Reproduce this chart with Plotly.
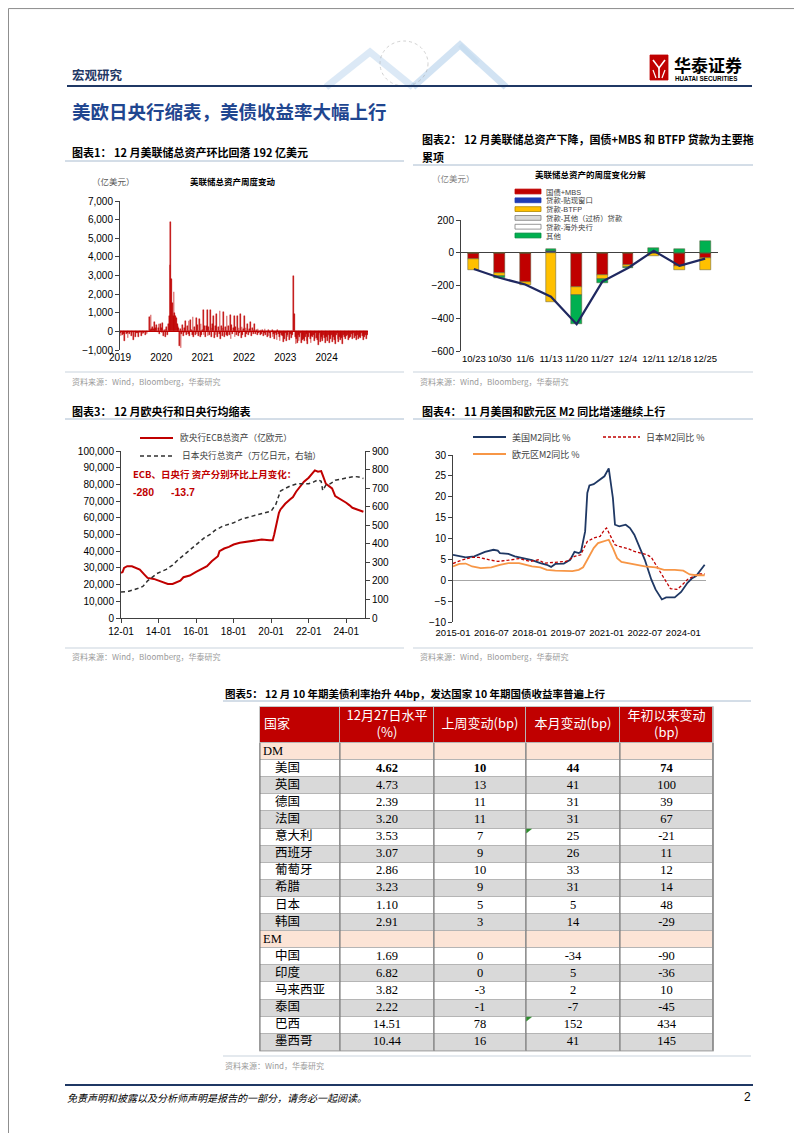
import plotly.graph_objects as go
import pandas as pd

# ======================= DATA =======================
# 图表1：美联储总资产周度变动（亿美元），每周一个值
fed_first_week = "2019-01-02"
fed_chg_2019 = [-80, -250, -30, -180, -120,
                -60, -500, -40, -150,
                -90, -380, -20, -120,
                -50, -250, -100, -60, -450,
                -40, -280, -30, -110,
                -70, -320, -50, -90,
                -20, -260, -60, -130, -90,
                -40, -210, -30, -150,
                -50, 20, 780, 60,
                880, 150, 250, 120, 520,
                100, 200, 350, -50,
                200, 380, -150, 420]
fed_chg_2020 = [200, -100, 450, -250, 100,
                -300, 150, 250, -200,
                400, 800, 3560, 5860,
                2800, 1500, 800, 2100, 1000,
                800, 700, 400, 300,
                200, -800, 150, -900,
                -150, 350, -250, 200, -100,
                550, -200, 300, -150,
                550, -250, 600, 100, -200,
                750, -300, 250, -200,
                700, -150, 350, -250,
                650, -300, 400, -200, 100]
fed_chg_2021 = [1150, -200, 300, -300,
                300, 1150, -250, 250,
                -200, 1150, -300, 200, 400,
                850, -350, 300, -200,
                950, -300, 250, -150,
                1100, -400, 300, -250, 200,
                1050, -300, 250, -200,
                850, -250, 300, -200,
                900, -400, 350, -150, 200,
                850, -300, 250, -200,
                850, -250, 200, -100,
                950, -350, 250, -200, 150]
fed_chg_2022 = [850, -300, 200, -150,
                400, -200, 150, -100,
                500, -250, 200, -150, 100,
                400, -150, 100, -200,
                150, -100, -50, -200,
                100, -150, 50, -250, -100,
                150, -200, -50, -300,
                100, -250, -100, -350, -50,
                50, -300, -150, -400,
                -100, -200, -450, 50,
                -150, -300, -500, -100, -200,
                -250, -550, -150, -400]
fed_chg_2023 = [-100, -500, -200, -300,
                -50, -450, -150, -350,
                -100, -200, 3000, 950, -300,
                -700, -400, -600, -200,
                -500, -300, -100, -600, -450,
                -200, -400, -500, -300,
                -150, -500, -700, -300,
                -100, -400, -650, -250, -300,
                -200, -500, -400, -100,
                -350, -450, -750, -200,
                -100, -550, -300, -400, -500,
                -200, -350, -600, -250]
fed_chg_2024 = [-300, -500, -200, -600, -250,
                -400, -200, -550, -300,
                -150, -450, -700, -200,
                -100, -400, -550, -300,
                -450, -250, -350, -700, -200,
                -300, -150, -400, -250,
                -200, -450, -100, -350, -300,
                -150, -400, -200, -100,
                -350, -250, -450, -100,
                -200, -400, -300, -150, -350,
                -100, -250, -450, -150,
                -300, -200, -400, -192]
fed_year_ticks = ["2019-01-01", "2020-01-01", "2021-01-01", "2022-01-01", "2023-01-01", "2024-01-01"]
fed_year_labels = ["2019", "2020", "2021", "2022", "2023", "2024"]

# 图表2：美联储总资产的周度变化分解（亿美元）
decomp_weeks = ["10/23", "10/30", "11/6", "11/13", "11/20", "11/27", "12/4", "12/11", "12/18", "12/25"]
tsy_mbs = [-36, -125, -180, -3, -210, -133, -73, -3, -79, -32]
discount_window = [0, 0, 0, 8, 0, 0, 0, 0, 0, 0]
btfp_loans = [-71, -14, -14, -298, -48, -30, -16, -18, -27, -75]
bridge_loans = [0, 0, 0, 0, 0, 0, 0, 0, 0, 0]
foreign_cb_loans = [0, 0, 0, 0, 0, 0, 0, 0, 0, 0]
other_items = [0, -14, 0, 17, -178, -20, -3, 30, 22, 73]
fed_total_chg = [-99, -153, -194, -268, -436, -176, -93, 12, -80, -36]
decomp_names = ["国债+MBS", "贷款-贴现窗口", "贷款-BTFP", "贷款-其他（过桥）贷款", "贷款-海外央行", "其他"]

# 图表3：欧央行总资产（亿欧元）与日本央行总资产（万亿日元）
ecb_dates = ["2012-01", "2012-02", "2012-03", "2012-05", "2012-08", "2012-11", "2013-01", "2013-04",
             "2013-06", "2013-10", "2014-01", "2014-04", "2014-07", "2014-10", "2015-01", "2015-03",
             "2015-05", "2015-09", "2016-01", "2016-04", "2016-08", "2016-11", "2017-03", "2017-04",
             "2017-07", "2017-10", "2018-01", "2018-05", "2018-10", "2019-01", "2019-07", "2019-12",
             "2020-02", "2020-03", "2020-04", "2020-06", "2020-07", "2020-10", "2021-01", "2021-03",
             "2021-05", "2021-08", "2021-10", "2022-01", "2022-03", "2022-05", "2022-07", "2022-09",
             "2022-10", "2022-12", "2023-02", "2023-04", "2023-06", "2023-08", "2023-10", "2024-01",
             "2024-03", "2024-05", "2024-08", "2024-10", "2024-12"]
ecb_assets = [27000, 27500, 30000, 31000, 31000, 30000, 29000, 26000,
              24000, 23400, 22400, 21600, 20400, 20400, 21400, 22400,
              24400, 25400, 27600, 29000, 31000, 34000, 37000, 40000,
              41600, 42600, 44000, 45000, 45600, 46000, 47000, 46600,
              46600, 50000, 55000, 63000, 65000, 68400, 71000, 72400,
              75600, 79000, 81600, 84000, 86400, 88400, 87600, 88000,
              85600, 80400, 79000, 77600, 73000, 72000, 70600, 69000,
              67600, 66000, 65000, 64400, 63600]
boj_dates = ["2012-01", "2012-06", "2012-12", "2013-03", "2013-06", "2013-09", "2013-12", "2014-06",
             "2014-10", "2015-01", "2015-06", "2015-12", "2016-06", "2016-10", "2017-01", "2017-06",
             "2018-01", "2018-06", "2019-01", "2019-06", "2020-01", "2020-04", "2020-07", "2020-10",
             "2021-01", "2021-06", "2022-01", "2022-04", "2022-07", "2022-09", "2022-10", "2022-12",
             "2023-03", "2023-06", "2023-09", "2024-01", "2024-06", "2024-09", "2024-12"]
boj_assets = [140, 144, 160, 170, 200, 222, 240, 262,
              285, 310, 345, 390, 430, 450, 472, 495,
              513, 533, 549, 558, 576, 612, 684, 698,
              711, 724, 724, 732, 745, 737, 688, 716,
              724, 742, 747, 756, 763, 760, 752]

# 图表4：M2 同比（%）
us_m2_dates = ["2015-01", "2015-03", "2015-07", "2015-11", "2016-01", "2016-04", "2016-08", "2016-10",
               "2016-11", "2017-03", "2017-06", "2017-10", "2018-02", "2018-06", "2018-09", "2018-11",
               "2019-01", "2019-05", "2019-08", "2019-10", "2019-12", "2020-01", "2020-03", "2020-04",
               "2020-05", "2020-07", "2020-09", "2020-12", "2021-02", "2021-04", "2021-05", "2021-07",
               "2021-10", "2021-12", "2022-02", "2022-04", "2022-07", "2022-10", "2022-12", "2023-03",
               "2023-05", "2023-09", "2023-12", "2024-03", "2024-05", "2024-07", "2024-11"]
us_m2_yoy = [6.1, 5.9, 5.5, 5.7, 6.1, 6.8, 7.3, 7.1,
             6.5, 6.3, 5.7, 5.3, 4.8, 4.1, 3.7, 3.2,
             3.9, 4.0, 4.9, 6.8, 6.5, 6.8, 11.7, 20.9,
             22.7, 23.0, 23.7, 24.9, 26.8, 19.7, 13.3, 12.9,
             13.3, 12.5, 10.9, 8.5, 4.9, 0.2, -2.2, -4.6,
             -4.1, -4.1, -2.8, -0.6, 0.4, 1.0, 3.7]
jp_m2_dates = ["2015-01", "2015-05", "2015-10", "2016-01", "2016-06", "2016-10", "2017-03", "2017-08",
               "2018-01", "2018-05", "2018-08", "2019-01", "2019-06", "2019-10", "2020-01", "2020-02",
               "2020-04", "2020-07", "2020-10", "2020-12", "2021-01", "2021-03", "2021-05", "2021-07",
               "2021-11", "2022-02", "2022-05", "2022-08", "2022-10", "2023-01", "2023-04", "2023-07",
               "2023-10", "2023-12", "2024-03", "2024-06", "2024-08", "2024-11"]
jp_m2_yoy = [4.0, 4.8, 5.5, 5.5, 4.9, 4.5, 4.8, 5.2,
             4.5, 4.9, 4.1, 4.3, 4.5, 5.7, 6.1, 7.3,
             9.3, 10.1, 10.5, 12.1, 12.5, 10.5, 8.5, 8.1,
             7.6, 6.9, 6.5, 6.1, 5.5, 2.9, 0.6, -2.0,
             -2.2, -1.4, 0.2, 1.0, 1.5, 1.5]
ez_m2_dates = ["2015-01", "2015-04", "2015-07", "2015-10", "2016-02", "2016-07", "2016-11", "2017-03",
               "2017-08", "2017-11", "2018-02", "2018-06", "2018-09", "2019-01", "2019-06", "2019-09",
               "2019-12", "2020-02", "2020-04", "2020-07", "2020-09", "2020-12", "2021-02", "2021-04",
               "2021-06", "2021-08", "2021-11", "2022-02", "2022-07", "2022-12", "2023-04", "2023-09",
               "2024-01", "2024-04", "2024-07", "2024-11"]
ez_m2_yoy = [3.3, 3.9, 4.0, 3.3, 2.9, 3.1, 3.7, 4.1,
             4.1, 3.7, 3.3, 3.1, 2.5, 2.3, 2.3, 2.2,
             2.5, 3.1, 4.9, 7.7, 8.9, 9.3, 9.7, 7.7,
             5.3, 4.4, 4.1, 3.7, 3.3, 3.1, 2.5, 2.5,
             2.3, 1.4, 1.2, 1.2]

# 图表5：10 年期国债收益率
table_header = ["国家", "12月27日水平<br>(%)", "上周变动(bp)", "本月变动(bp)", "年初以来变动<br>(bp)"]
dm_countries = ["美国", "英国", "德国", "法国", "意大利", "西班牙", "葡萄牙", "希腊", "日本", "韩国"]
dm_level = ["4.62", "4.73", "2.39", "3.20", "3.53", "3.07", "2.86", "3.23", "1.10", "2.91"]
dm_week = [10, 13, 11, 11, 7, 9, 10, 9, 5, 3]
dm_month = [44, 41, 31, 31, 25, 26, 33, 31, 5, 14]
dm_ytd = [74, 100, 39, 67, -21, 11, 12, 14, 48, -29]
em_countries = ["中国", "印度", "马来西亚", "泰国", "巴西", "墨西哥"]
em_level = ["1.69", "6.82", "3.82", "2.22", "14.51", "10.44"]
em_week = [0, 0, -3, -1, 78, 16]
em_month = [-34, 5, 2, -7, 152, 41]
em_ytd = [-90, -36, 10, -45, 434, 145]

# ======================= HELPERS =======================
W, H = 802, 1133
CJK = "Noto Sans CJK SC"
SANS = "Liberation Sans, Arial, Noto Sans CJK SC"
SERIF = "Liberation Serif, Times New Roman, Noto Sans CJK SC"
RED = "#C00000"
NAVY = "#1F3864"


def fx(p):
    return p / W


def fy(p):
    return 1 - p / H


annotations = []
shapes = []


def txt(x, y, s, size=10, color="#000000", xanchor="left", yanchor="middle", family=CJK, box_h=None):
    a = dict(x=fx(x), y=fy(y), xref="paper", yref="paper", text=s, showarrow=False,
             xanchor=xanchor, yanchor=yanchor, align="left",
             font=dict(size=size, color=color, family=family))
    if box_h:
        a["height"] = box_h
        a["borderpad"] = 0
        a["valign"] = "middle"
    annotations.append(a)


def hline(x0, y0, x1, y1, color, width=1, dash="solid"):
    shapes.append(dict(type="line", xref="paper", yref="paper", x0=fx(x0), y0=fy(y0), x1=fx(x1), y1=fy(y1),
                       line=dict(color=color, width=width, dash=dash)))


def rect(x0, y0, x1, y1, fill, line_color=None, lw=0.8, layer="above"):
    shapes.append(dict(type="rect", xref="paper", yref="paper", x0=fx(x0), y0=fy(y1), x1=fx(x1), y1=fy(y0),
                       fillcolor=fill, line=dict(color=line_color or fill, width=lw), layer=layer))


def path(points, color, width, opacity=1.0, fill=None):
    d = "M " + " L ".join(f"{fx(a):.5f},{fy(b):.5f}" for a, b in points)
    if fill:
        d += " Z"
    shapes.append(dict(type="path", xref="paper", yref="paper", path=d, opacity=opacity,
                       line=dict(color=color, width=width), fillcolor=fill or "rgba(0,0,0,0)"))


# ======================= TRACES =======================
fed_chg = fed_chg_2019 + fed_chg_2020 + fed_chg_2021 + fed_chg_2022 + fed_chg_2023 + fed_chg_2024
fed_weeks = pd.date_range(fed_first_week, periods=len(fed_chg), freq="7D")
week_ms = 7 * 24 * 3600 * 1000

fig = go.Figure()
fig.add_trace(go.Bar(x=fed_weeks, y=fed_chg, width=week_ms, marker=dict(color=RED, line=dict(color=RED, width=0.4)),
                     xaxis="x", yaxis="y", name="美联储总资产周度变动"))

decomp_series = [tsy_mbs, discount_window, btfp_loans, bridge_loans, foreign_cb_loans, other_items]
decomp_colors = [RED, "#1F3BB3", "#FFC000", "#D9D9D9", "#FFFFFF", "#00B050"]
for name, vals, col in zip(decomp_names, decomp_series, decomp_colors):
    fig.add_trace(go.Bar(x=decomp_weeks, y=vals, width=0.42, name=name,
                         marker=dict(color=col, line=dict(color="#5A5A3A", width=0.5)),
                         xaxis="x2", yaxis="y2"))
fig.add_trace(go.Scatter(x=decomp_weeks, y=fed_total_chg, mode="lines", line=dict(color="#1F2860", width=2.2),
                         xaxis="x2", yaxis="y2", name="合计"))

fig.add_trace(go.Scatter(x=ecb_dates, y=ecb_assets, mode="lines", line=dict(color=RED, width=2),
                         xaxis="x3", yaxis="y3", name="欧央行ECB总资产"))
fig.add_trace(go.Scatter(x=boj_dates, y=boj_assets, mode="lines",
                         line=dict(color="#303030", width=1.5, dash="4px,3px"),
                         xaxis="x3", yaxis="y4", name="日本央行总资产"))

fig.add_trace(go.Scatter(x=us_m2_dates, y=us_m2_yoy, mode="lines", line=dict(color="#1F3864", width=1.8),
                         xaxis="x4", yaxis="y5", name="美国M2同比 %"))
fig.add_trace(go.Scatter(x=jp_m2_dates, y=jp_m2_yoy, mode="lines", line=dict(color=RED, width=1.3, dash="3px,2px"),
                         xaxis="x4", yaxis="y5", name="日本M2同比 %"))
fig.add_trace(go.Scatter(x=ez_m2_dates, y=ez_m2_yoy, mode="lines", line=dict(color="#F79646", width=1.8),
                         xaxis="x4", yaxis="y5", name="欧元区M2同比 %"))

# ---------- table (cells as a heatmap of fill classes + text) ----------
TBL_X0, TBL_Y0 = 252, 699
col_w = [80, 94, 92, 94, 93]
head_h, row_h = 36, 17.1
rows_country, rows_vals, row_cls, row_indent, row_bold = [], [[], [], [], []], [], [], []
# fill classes: 0 white, 1 gray, 2 peach, 3 red


def add_group(label, countries, level, week, month, ytd):
    rows_country.append(label)
    for c in rows_vals:
        c.append("")
    row_cls.append(2)
    row_indent.append(False)
    row_bold.append(False)
    for i, c in enumerate(countries):
        rows_country.append(c)
        for col, src in zip(rows_vals, (level, week, month, ytd)):
            col.append(str(src[i]))
        row_cls.append(0 if i % 2 == 0 else 1)
        row_indent.append(True)
        row_bold.append(c == "美国")


add_group("DM", dm_countries, dm_level, dm_week, dm_month, dm_ytd)
add_group("EM", em_countries, em_level, em_week, em_month, em_ytd)

x_edges = [0]
for w_ in col_w:
    x_edges.append(x_edges[-1] + w_)
y_edges = [0, head_h]
for _ in rows_country:
    y_edges.append(y_edges[-1] + row_h)
z = [[3] * 5] + [[k] * 5 for k in row_cls]
tbl_w, tbl_h = x_edges[-1], y_edges[-1]

rect(TBL_X0 - 0.5, TBL_Y0 - 0.5, TBL_X0 + tbl_w + 0.5, TBL_Y0 + tbl_h + 0.5, "#B5B5B5", "#B5B5B5", 0.5, "below")
fig.add_trace(go.Heatmap(x=x_edges, y=y_edges, z=z, xaxis="x5", yaxis="y6", zmin=-0.5, zmax=3.5,
                         colorscale=[[0, "#FFFFFF"], [0.25, "#FFFFFF"], [0.25, "#D9D9D9"], [0.5, "#D9D9D9"],
                                     [0.5, "#FCE4D6"], [0.75, "#FCE4D6"], [0.75, RED], [1, RED]],
                         showscale=False, xgap=1, ygap=1, hoverinfo="skip"))
# darker vertical column rules below the header
for xe in x_edges:
    xp = TBL_X0 + xe
    hline(xp, TBL_Y0 + head_h, xp, TBL_Y0 + tbl_h, "#6E6E6E", 1)

cx = [(x_edges[i] + x_edges[i + 1]) / 2 for i in range(5)]
cy = [(y_edges[i + 1] + y_edges[i + 2]) / 2 for i in range(len(rows_country))]
# header text
fig.add_trace(go.Scatter(x=[x_edges[0] + 4], y=[head_h / 2], text=[table_header[0]], mode="text",
                         textposition="middle right", xaxis="x5", yaxis="y6", cliponaxis=False, hoverinfo="skip",
                         textfont=dict(color="white", size=13, family=CJK)))
fig.add_trace(go.Scatter(x=cx[1:], y=[head_h / 2] * 4, text=table_header[1:], mode="text",
                         textposition="middle center", xaxis="x5", yaxis="y6", cliponaxis=False, hoverinfo="skip",
                         textfont=dict(color="white", size=13, family=CJK)))
# first column
fig.add_trace(go.Scatter(x=[x_edges[0] + (15 if ind else 3) for ind in row_indent], y=cy,
                         text=[c for c in rows_country], mode="text", textposition="middle right",
                         xaxis="x5", yaxis="y6", cliponaxis=False, hoverinfo="skip",
                         textfont=dict(color="black", size=12.5, family=SERIF)))
# value columns
for j in range(4):
    vals = [f"<b>{v}</b>" if b else v for v, b in zip(rows_vals[j], row_bold)]
    fig.add_trace(go.Scatter(x=[cx[j + 1]] * len(cy), y=cy, text=vals, mode="text",
                             textposition="middle center", xaxis="x5", yaxis="y6", cliponaxis=False,
                             hoverinfo="skip", textfont=dict(color="black", size=12.5, family=SERIF)))

# small comment markers in the table (Excel notes)
for r_name in ("意大利", "巴西"):
    ri = rows_country.index(r_name)
    ty = TBL_Y0 + y_edges[ri + 1]
    tx = TBL_X0 + x_edges[3] + 0.5
    path([(tx, ty + 0.5), (tx + 5, ty + 0.5), (tx, ty + 4.5)], "#2E8B2E", 0.5, 1.0, "#2E8B2E")

# ======================= PAGE DECORATION =======================
shapes.append(dict(type="rect", xref="paper", yref="paper", x0=0.0006, y0=0.0005, x1=0.9994, y1=0.9995,
                   line=dict(color="#8C8C8C", width=1), fillcolor="rgba(0,0,0,0)", layer="below"))
# header artwork
path([(318, 79), (362, 44), (405, 79)], "#9DC3E6", 7, 0.35)
path([(405, 79), (452, 37), (498, 79)], "#9DC3E6", 7, 0.45)
path([(452, 37), (470, 55)], "#BDD7EE", 5, 0.4)
shapes.append(dict(type="circle", xref="paper", yref="paper", x0=fx(372), y0=fy(78), x1=fx(420), y1=fy(33),
                   line=dict(color="#A6A6A6", width=1, dash="dot"), opacity=0.5))
# logo
rect(642, 47, 660, 72, RED)
path([(645, 52), (651, 60), (657, 52)], "white", 1.6)
path([(651, 60), (651, 70)], "white", 1.6)
path([(645, 62), (648, 70)], "white", 1.2)
path([(657, 62), (654, 70)], "white", 1.2)
txt(664, 57, "<b>华泰证券</b>", 17)
txt(665, 70, "<b>HUATAI SECURITIES</b>", 6.3, family=SANS)

txt(62, 67, "<b>宏观研究</b>", 12.5, NAVY)
hline(59, 78, 744, 78, NAVY, 2)
txt(62, 103, "<b>美欧日央行缩表，美债收益率大幅上行</b>", 18.5, "#1F4690")

# chart titles
LINEC = "#A9BCD0"
txt(62, 144, "<b>图表1： 12 月美联储总资产环比回落 192 亿美元</b>", 11)
hline(57, 153, 396, 153, LINEC)
txt(412, 131, "<b>图表2： 12 月美联储总资产下降，国债+MBS 和 BTFP 贷款为主要拖</b>", 11)
txt(412, 149, "<b>累项</b>", 11)
hline(405, 157, 745, 157, LINEC)
txt(62, 403, "<b>图表3： 12 月欧央行和日央行均缩表</b>", 11)
hline(57, 411, 396, 411, LINEC)
txt(412, 403, "<b>图表4： 11 月美国和欧元区 M2 同比增速继续上行</b>", 11)
hline(405, 411, 745, 411, LINEC)
txt(215, 685, "<b>图表5： 12 月 10 年期美债利率抬升 44bp，发达国家 10 年期国债收益率普遍上行</b>", 10.5)
hline(215, 693, 743, 693, LINEC)

# sources
SRC = "#9A9A9A"
for (x0, x1, ly, ty) in [(57, 396, 364, 373), (405, 745, 364, 373), (57, 396, 640, 648), (405, 745, 640, 648)]:
    hline(x0, ly, x1, ly, "#C9D3DD")
    txt(x0 + 5, ty, "资料来源：Wind，Bloomberg，华泰研究", 8, SRC)
hline(215, 1048, 743, 1048, "#C9D3DD")
txt(215, 1057, "资料来源：Wind，华泰研究", 8, SRC)

# chart 1 labels
txt(105, 173, "（亿美元）", 8.5, "#595959", xanchor="center")
txt(225, 173, "<b>美联储总资产周度变动</b>", 8.5, "#000000", xanchor="center")

# chart 2 labels + legend
txt(445, 170, "（亿美元）", 8.5, "#7F7F7F", xanchor="center")
txt(582, 166, "<b>美联储总资产的周度变化分解</b>", 8.5, "#000000", xanchor="center")
leg_y = [183.5, 192.3, 201.1, 209.9, 218.7, 227.5]
leg_border = [RED, "#1F3BB3", "#B08800", "#7F7F7F", "#7F7F7F", "#008A40"]
for yy, name, col, bc in zip(leg_y, decomp_names, decomp_colors, leg_border):
    rect(507, yy - 2.4, 533, yy + 2.4, col, bc, 0.8)
    txt(537, yy, name, 7.4, "#404040", family=SANS, box_h=8.4)

# chart 3 legend + note
hline(132, 430, 165, 430, RED, 2)
txt(170, 430, "欧央行ECB总资产（亿欧元）", 8.7, "#404040")
hline(132, 448, 165, 448, "#303030", 1.5, "4px,3px")
txt(172, 448, "日本央行总资产（万亿日元，右轴）", 8.7, "#404040")
txt(123, 466, "<b>ECB、日央行 资产分别环比上月变化：</b>", 9.5, RED)
txt(123, 484, "<b>-280</b>", 10.5, RED, family=SANS)
txt(161, 484, "<b>-13.7</b>", 10.5, RED, family=SANS)

# chart 4 legend
hline(465, 429, 498, 429, "#1F3864", 2)
txt(502, 429, "美国M2同比 %", 9, "#404040")
hline(595, 429, 632, 429, RED, 1.3, "3px,2px")
txt(636, 429, "日本M2同比 %", 9, "#404040")
hline(465, 446, 498, 446, "#F79646", 2)
txt(502, 446, "欧元区M2同比 %", 9, "#404040")

# footer
hline(57, 1077, 745, 1077, NAVY, 2)
txt(57, 1089, "<i>免责声明和披露以及分析师声明是报告的一部分，请务必一起阅读。</i>", 10, "#000000")
txt(745, 1089, "2", 12, "#000000", xanchor="right", family=SANS)

# ======================= LAYOUT =======================
AX = "#404040"
tick_font = dict(size=10, family=SANS, color="#000000")
common_y = dict(showgrid=False, showline=True, linecolor=AX, linewidth=1, ticks="outside", ticklen=4,
                tickcolor=AX, tickfont=tick_font)
hidden = dict(visible=False, showgrid=False, zeroline=False, fixedrange=True)

fig.update_layout(
    width=W, height=H, autosize=False, margin=dict(l=0, r=0, t=0, b=0),
    paper_bgcolor="white", plot_bgcolor="rgba(0,0,0,0)", template="none",
    showlegend=False, barmode="relative", bargap=0,
    font=dict(family=SANS, size=10, color="#000000"),
    xaxis=dict(domain=[fx(112), fx(360)], anchor="y", type="date", range=["2019-01-01", "2025-01-01"],
               tickvals=fed_year_ticks, ticktext=fed_year_labels, showgrid=False, showline=False,
               zeroline=False, ticks="", tickangle=0, tickfont=tick_font),
    yaxis=dict(domain=[fy(342), fy(193)], anchor="x", range=[-1000, 7000], dtick=1000, tickformat=",",
               zeroline=True, zerolinecolor=RED, zerolinewidth=1, **common_y),
    xaxis2=dict(domain=[fx(453), fx(710)], anchor="y2", type="category", range=[-0.5, 9.5],
                showgrid=False, showline=False, zeroline=False, ticks="", tickangle=0,
                tickfont=dict(size=9.5, family=SANS, color="#000000")),
    yaxis2=dict(domain=[fy(343), fy(212)], anchor="x2", range=[-600, 200], dtick=200,
                zeroline=True, zerolinecolor=AX, zerolinewidth=1, **common_y),
    xaxis3=dict(domain=[fx(113), fx(357)], anchor="y3", type="date", range=["2012-01-01", "2025-01-01"],
                tick0="2012-01-01", dtick="M24", tickformat="%y-%m", showgrid=False, showline=True,
                linecolor=AX, ticks="outside", ticklen=4, tickcolor=AX, zeroline=False, tickangle=0,
                tickfont=tick_font),
    yaxis3=dict(domain=[fy(610), fy(443)], anchor="x3", range=[0, 100000], dtick=10000, tickformat=",",
                zeroline=False, **common_y),
    yaxis4=dict(overlaying="y3", side="right", anchor="x3", range=[0, 900], dtick=100, zeroline=False,
                **common_y),
    xaxis4=dict(domain=[fx(445), fx(698)], anchor="y5", type="date", range=["2015-01-01", "2024-11-20"],
                tick0="2015-01-01", dtick="M18", tickformat="%Y-%m", showgrid=False, showline=False,
                zeroline=False, ticks="", tickangle=0, ticklabelstandoff=3,
                tickfont=dict(size=9.5, family=SANS, color="#000000")),
    yaxis5=dict(domain=[fy(614), fy(447)], anchor="x4", range=[-10, 30], dtick=5,
                zeroline=True, zerolinecolor="#A6A6A6", zerolinewidth=1, **common_y),
    xaxis5=dict(domain=[fx(TBL_X0), fx(TBL_X0 + tbl_w)], anchor="y6", range=[0, tbl_w], **hidden),
    yaxis6=dict(domain=[fy(TBL_Y0 + tbl_h), fy(TBL_Y0)], anchor="x5", range=[tbl_h, 0], **hidden),
    annotations=annotations,
    shapes=shapes,
)

fig.write_html("out.html", config={"displayModeBar": False})
